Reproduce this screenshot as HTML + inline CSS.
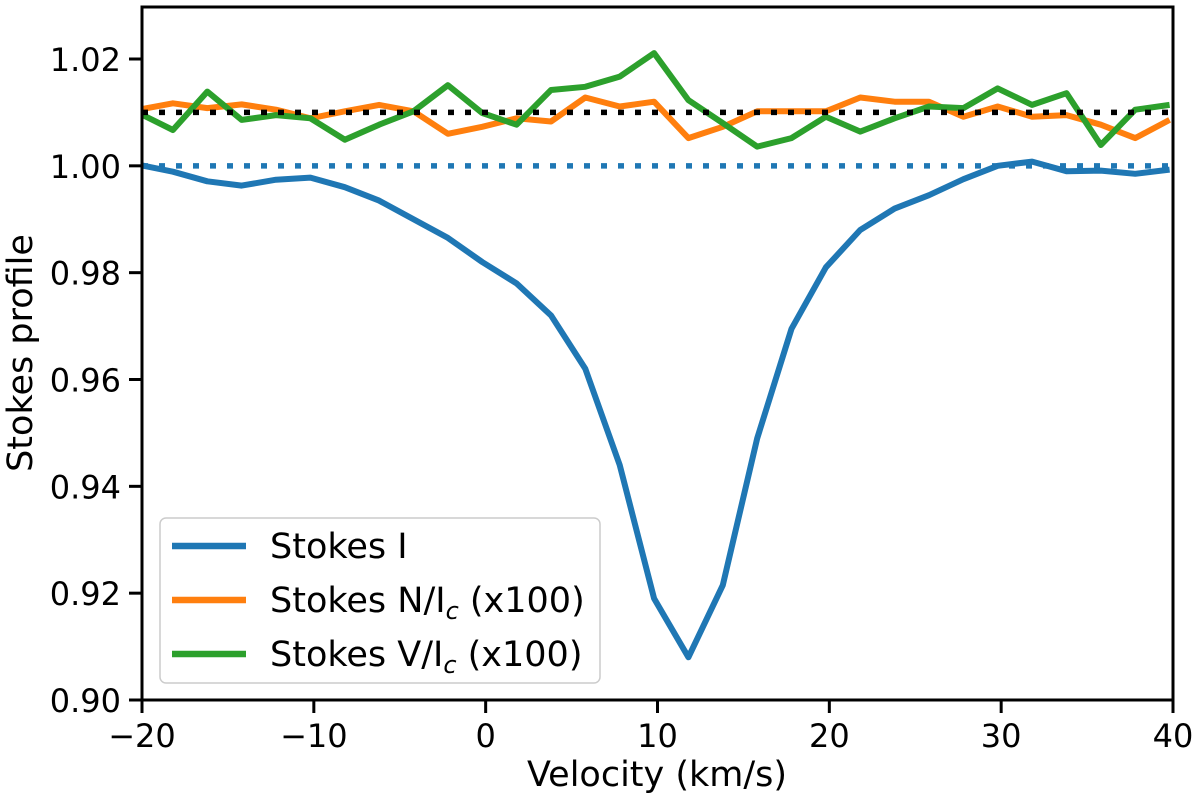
<!DOCTYPE html>
<html><head><meta charset="utf-8"><style>
body{margin:0;background:#fff}
svg text{font-family:"DejaVu Sans","Liberation Sans",sans-serif;fill:#000}
</style></head><body>
<svg id="chart" width="1200" height="797" xmlns="http://www.w3.org/2000/svg">
<defs><clipPath id="clip"><rect x="142" y="7" width="1031" height="693"/></clipPath></defs>
<g id="plot" clip-path="url(#clip)"></g>
<rect x="142" y="7" width="1031" height="693" fill="none" stroke="#000" stroke-width="3"/>
<g id="axes"></g>
<text x="657" y="786" font-size="35" text-anchor="middle">Velocity (km/s)</text>
<text transform="translate(32,353) rotate(-90)" font-size="35" text-anchor="middle">Stokes profile</text>
<g>
<rect x="160" y="518" width="440" height="165" rx="6" fill="#fff" fill-opacity="0.8" stroke="#ccc" stroke-width="1.5"/>
<g><line x1="172" y1="546" x2="246" y2="546" stroke="#1f77b4" stroke-width="6.5"/><text x="270" y="558" font-size="35">Stokes I</text></g>
<g><line x1="172" y1="600" x2="246" y2="600" stroke="#ff7f0e" stroke-width="6.5"/><text x="270" y="612" font-size="35">Stokes N/I<tspan font-style="italic" font-size="24" dy="7">c</tspan><tspan dy="-7"> (x100)</tspan></text></g>
<g><line x1="172" y1="654" x2="246" y2="654" stroke="#2ca02c" stroke-width="6.5"/><text x="270" y="666" font-size="35">Stokes V/I<tspan font-style="italic" font-size="24" dy="7">c</tspan><tspan dy="-7"> (x100)</tspan></text></g>
</g>
</svg>
<script>
const velocity=[-20.2,-18.2,-16.2,-14.2,-12.2,-10.2,-8.2,-6.2,-4.2,-2.2,-0.2,1.8,3.8,5.8,7.8,9.8,11.8,13.8,15.8,17.8,19.8,21.8,23.8,25.8,27.8,29.8,31.8,33.8,35.8,37.8,39.8];
const stokesI=[1.0002,0.9989,0.9971,0.9963,0.9974,0.9978,0.996,0.9935,0.990,0.9865,0.982,0.978,0.972,0.962,0.944,0.919,0.908,0.9215,0.949,0.9695,0.981,0.988,0.992,0.9945,0.9975,1.0,1.0008,0.999,0.9991,0.9985,0.9993];
const stokesN=[1.0105,1.0117,1.0108,1.0115,1.0105,1.0089,1.0102,1.0114,1.0102,1.006,1.0073,1.0089,1.0083,1.0128,1.0111,1.012,1.0052,1.0073,1.0102,1.0102,1.0102,1.0128,1.012,1.012,1.0092,1.0111,1.0092,1.0095,1.0077,1.0052,1.0086];
const stokesV=[1.0099,1.0067,1.0139,1.0086,1.0095,1.0089,1.0049,1.0077,1.0102,1.0151,1.0099,1.0077,1.0142,1.0148,1.0167,1.0211,1.0123,1.008,1.0036,1.0052,1.0092,1.0064,1.0089,1.0111,1.0108,1.0145,1.0114,1.0136,1.0039,1.0105,1.0114];
const xTicks=[-20,-10,0,10,20,30,40];
const xTickLabels=["\u221220","\u221210","0","10","20","30","40"];
const yTicks=[0.90,0.92,0.94,0.96,0.98,1.00,1.02];
const yTickLabels=["0.90","0.92","0.94","0.96","0.98","1.00","1.02"];
const refContinuum=1.00, refPolar=1.01;
const X=v=>142+(v+20)*1031/60;
const Y=v=>700-(v-0.90)*641/0.12;
const NS="http://www.w3.org/2000/svg";
const plot=document.getElementById('plot'), axes=document.getElementById('axes');
function mk(p,tag,attrs){const e=document.createElementNS(NS,tag);for(const k in attrs)e.setAttribute(k,attrs[k]);p.appendChild(e);return e;}
let l1=mk(plot,'line',{x1:X(-20),x2:X(40),y1:Y(refContinuum),y2:Y(refContinuum),stroke:'#1f77b4','stroke-width':5.5,'stroke-dasharray':'6 11'});


function series(vals,color,name){const d=vals.map((v,i)=>(i?'L':'M')+X(velocity[i]).toFixed(1)+','+Y(v).toFixed(1)).join('');
const p=mk(plot,'path',{d:d,fill:'none',stroke:color,'stroke-width':6,'stroke-linejoin':'round'});

}
series(stokesI,'#1f77b4','stokes-i-line');
series(stokesN,'#ff7f0e','stokes-n-line');
series(stokesV,'#2ca02c','stokes-v-line');
let l2=mk(plot,'line',{x1:X(-20),x2:X(40),y1:Y(refPolar),y2:Y(refPolar),stroke:'#000','stroke-width':5.5,'stroke-dasharray':'6 11'});


xTicks.forEach((t,i)=>{mk(axes,'line',{x1:X(t),x2:X(t),y1:700,y2:713,stroke:'#000','stroke-width':3});
const tx=mk(axes,'text',{x:X(t),y:747,'font-size':32,'text-anchor':'middle'});tx.textContent=xTickLabels[i];

});
yTicks.forEach((t,i)=>{mk(axes,'line',{x1:129,x2:142,y1:Y(t),y2:Y(t),stroke:'#000','stroke-width':3});
const tx=mk(axes,'text',{x:121,y:Y(t)+12,'font-size':32,'text-anchor':'end'});tx.textContent=yTickLabels[i];

});
</script>
</body></html>
